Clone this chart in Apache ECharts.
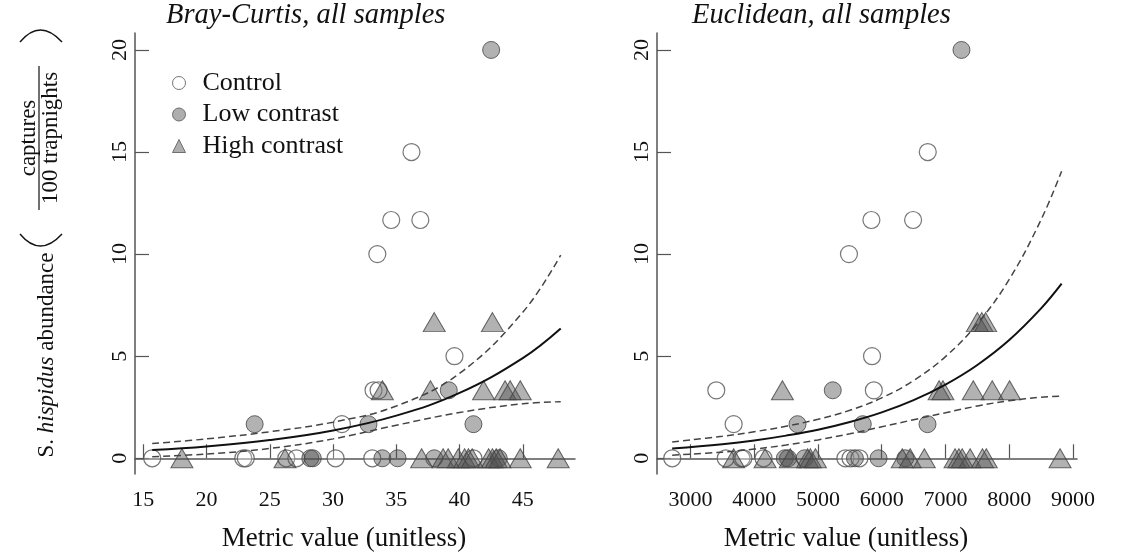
<!DOCTYPE html>
<html>
<head>
<meta charset="utf-8">
<script src="https://cdn.jsdelivr.net/npm/echarts@6/dist/echarts.min.js"></script>
<style>
  html, body { margin: 0; padding: 0; background: #fff; }
  #main { width: 1132px; height: 558px; }
</style>
</head>
<body>
<div id="main"></div>
<script>
  // points: [metric value, captures / 100 trapnights]
  var bcControl = [[15.7,0],[22.9,0],[23.1,0],[26.3,0],[27.1,0],[30.2,0],[33.1,0],[41.1,0],
    [30.7,1.67],[33.2,3.33],[33.6,3.33],[39.6,5],[33.5,10],[34.6,11.67],[36.9,11.67],[36.2,15]];
  var bcLow = [[28.2,0],[28.4,0],[33.9,0],[35.1,0],[38.0,0],[43.1,0],
    [23.8,1.67],[32.8,1.67],[41.1,1.67],[39.15,3.33],[42.5,20]];
  var bcHigh = [[18.05,0],[26.2,0],[37.0,0],[38.7,0],[39.1,0],[39.9,0],[40.4,0],[40.7,0],[41.0,0],
    [42.3,0],[42.6,0],[42.9,0],[43.2,0],[44.8,0],[47.8,0],
    [33.9,3.33],[37.7,3.33],[41.9,3.33],[43.6,3.33],[44.0,3.33],[44.8,3.33],[38.0,6.67],[42.6,6.67]];

  var euControl = [[2714,0],[3553,0],[3800,0],[3830,0],[4146,0],[5430,0],[5510,0],[5650,0],
    [3677,1.67],[3405,3.33],[5876,3.33],[5848,5],[5486,10],[5838,11.67],[6492,11.67],[6722,15]];
  var euLow = [[4480,0],[4530,0],[4790,0],[5580,0],[5950,0],[6370,0],
    [4679,1.67],[5703,1.67],[6718,1.67],[5232,3.33],[7251,20]];
  var euHigh = [[3677,0],[4170,0],[4565,0],[4837,0],[4880,0],[4960,0],[6322,0],[6446,0],[6668,0],
    [7150,0],[7210,0],[7262,0],[7386,0],[7580,0],[7640,0],[8797,0],
    [4442,3.33],[6900,3.33],[6960,3.33],[7436,3.33],[7733,3.33],[8005,3.33],
    [7500,6.67],[7570,6.67],[7630,6.67]];

  // fitted curve and its bands, read at a few x positions
  var bcCurveX = [15.7, 20, 25, 30, 35, 40, 45, 48];
  var bcFit    = [0.40, 0.58, 0.89, 1.36, 2.09, 3.20, 4.91, 6.36];
  var bcUpper  = [0.72, 0.95, 1.30, 1.77, 2.56, 4.16, 7.15, 9.95];
  var bcLower  = [0.08, 0.21, 0.48, 0.95, 1.62, 2.24, 2.67, 2.77];

  var euCurveX = [2713, 3500, 4000, 4500, 5000, 5500, 6000, 6500, 7000, 7500, 8000, 8500, 8822];
  var euFit    = [0.48, 0.69, 0.87, 1.11, 1.40, 1.78, 2.25, 2.85, 3.61, 4.57, 5.79, 7.34, 8.55];
  var euUpper  = [0.80, 1.08, 1.30, 1.57, 1.91, 2.35, 2.96, 3.81, 4.98, 6.59, 8.76, 11.69, 14.06];
  var euLower  = [0.15, 0.30, 0.45, 0.65, 0.90, 1.20, 1.54, 1.89, 2.23, 2.56, 2.82, 2.99, 3.04];

  var bcTicks = [15, 20, 25, 30, 35, 40, 45];
  var euTicks = [3000, 4000, 5000, 6000, 7000, 8000, 9000];
  var yTicks = [0, 5, 10, 15, 20];

  var serif = '"Liberation Serif", "DejaVu Serif", serif';
  var axisGrey = '#555';

  function pairs(xs, ys) {
    return xs.map(function (x, i) { return [x, ys[i]]; });
  }

  function xAxisFor(idx, min, max, ticks, namePad) {
    return {
      type: 'value', gridIndex: idx, min: min, max: max,
      name: 'Metric value (unitless)', nameLocation: 'middle', nameGap: 51,
      nameTextStyle: { fontFamily: serif, fontSize: 27, color: '#111', padding: namePad },
      axisLine: { lineStyle: { color: axisGrey, width: 1.5 } },
      axisTick: { inside: true, length: 14, customValues: ticks, lineStyle: { color: axisGrey, width: 1.2 } },
      axisLabel: { customValues: ticks, margin: 15, fontFamily: serif, fontSize: 22, color: '#111',
        formatter: function (v) { return String(v); } },
      splitLine: { show: false }
    };
  }

  function yAxisFor(idx) {
    return {
      type: 'value', gridIndex: idx, min: -0.77, max: 20.83,
      axisLine: { show: true, lineStyle: { color: axisGrey, width: 1.5 } },
      axisTick: { show: true, inside: true, length: 14, customValues: yTicks, lineStyle: { color: axisGrey, width: 1.2 } },
      axisLabel: { customValues: yTicks, rotate: 90, margin: 4, fontFamily: serif, fontSize: 22, color: '#111' },
      splitLine: { show: false }
    };
  }

  var controlStyle = { color: 'rgba(255,255,255,0.3)', borderColor: '#555', borderWidth: 1.2 };
  var lowStyle = { color: 'rgba(80,80,80,0.55)', borderColor: '#444', borderWidth: 1 };
  var highStyle = { color: 'rgba(80,80,80,0.55)', borderColor: '#444', borderWidth: 1 };

  function panelSeries(idx, control, low, high, cx, fit, up, lo) {
    var s = [
      { name: 'Control', type: 'scatter', xAxisIndex: idx, yAxisIndex: idx, symbol: 'circle', symbolSize: 17, itemStyle: controlStyle, data: control },
      { name: 'Low contrast', type: 'scatter', xAxisIndex: idx, yAxisIndex: idx, symbol: 'circle', symbolSize: 17, itemStyle: lowStyle, data: low },
      { name: 'High contrast', type: 'scatter', xAxisIndex: idx, yAxisIndex: idx, symbol: 'triangle', symbolSize: [22, 19], itemStyle: highStyle, data: high }
    ];
    var lines = [
      { d: fit, style: { color: '#111', width: 2 } },
      { d: up, style: { color: '#444', width: 1.5, type: [7, 4] } },
      { d: lo, style: { color: '#444', width: 1.5, type: [7, 4] } }
    ];
    lines.forEach(function (l) {
      s.push({
        type: 'line', xAxisIndex: idx, yAxisIndex: idx, showSymbol: false, smooth: 0.4,
        lineStyle: l.style, silent: true, data: pairs(cx, l.d), z: 3
      });
    });
    return s;
  }

  var myChart = echarts.init(document.getElementById('main'));
  var option = {
    backgroundColor: '#fff',
    animation: false,
    title: [
      { text: 'Bray-Curtis, all samples', left: 166, top: 1, padding: 0,
        textStyle: { fontFamily: serif, fontStyle: 'italic', fontWeight: 'normal', fontSize: 28.5, color: '#111' } },
      { text: 'Euclidean, all samples', left: 692, top: 1, padding: 0,
        textStyle: { fontFamily: serif, fontStyle: 'italic', fontWeight: 'normal', fontSize: 28.5, color: '#111' } }
    ],
    legend: {
      orient: 'vertical', left: 172, top: 70, padding: 0, itemGap: 5.5,
      itemWidth: 13, itemHeight: 13, selectedMode: false,
      textStyle: { fontFamily: serif, fontSize: 26, color: '#111', lineHeight: 26, padding: [0, 0, 0, 12] },
      data: [
        { name: 'Control', icon: 'circle', itemStyle: { color: '#fff', borderColor: '#555', borderWidth: 1 } },
        { name: 'Low contrast', icon: 'circle', itemStyle: { color: '#9a9a9a', borderColor: '#555', borderWidth: 1 } },
        { name: 'High contrast', icon: 'triangle', itemStyle: { color: '#9a9a9a', borderColor: '#555', borderWidth: 1 } }
      ]
    },
    grid: [
      { left: 135, top: 33, width: 440, height: 441 },
      { left: 657, top: 33, width: 420, height: 441 }
    ],
    xAxis: [
      xAxisFor(0, 14.34, 49.13, bcTicks, [0, 22, 0, 0]),
      xAxisFor(1, 2475, 9063, euTicks, [0, 42, 0, 0])
    ],
    yAxis: [yAxisFor(0), yAxisFor(1)],
    graphic: [
      { type: 'text', x: 47, y: 355, rotation: Math.PI / 2,
        style: { text: '{n|S. }{i|hispidus}{n| abundance}', align: 'center', verticalAlign: 'middle', fill: '#111',
          rich: { n: { fontFamily: serif, fontSize: 23 }, i: { fontFamily: serif, fontSize: 23, fontStyle: 'italic' } } } },
      { type: 'text', x: 29, y: 138, rotation: Math.PI / 2,
        style: { text: 'captures', align: 'center', verticalAlign: 'middle', fontFamily: serif, fontSize: 23, fill: '#111' } },
      { type: 'line', shape: { x1: 39, y1: 66, x2: 39, y2: 210 }, style: { stroke: '#111', lineWidth: 1.2 } },
      { type: 'text', x: 51, y: 138, rotation: Math.PI / 2,
        style: { text: '100 trapnights', align: 'center', verticalAlign: 'middle', fontFamily: serif, fontSize: 23, fill: '#111' } },
      { type: 'bezierCurve', shape: { x1: 20, y1: 42, cpx1: 40, cpy1: 18, x2: 62, y2: 42 }, style: { stroke: '#111', lineWidth: 1.4, fill: null } },
      { type: 'bezierCurve', shape: { x1: 20, y1: 234, cpx1: 40, cpy1: 258, x2: 62, y2: 234 }, style: { stroke: '#111', lineWidth: 1.4, fill: null } }
    ],
    series: panelSeries(0, bcControl, bcLow, bcHigh, bcCurveX, bcFit, bcUpper, bcLower)
      .concat(panelSeries(1, euControl, euLow, euHigh, euCurveX, euFit, euUpper, euLower))
  };
  myChart.setOption(option);
</script>
</body>
</html>
